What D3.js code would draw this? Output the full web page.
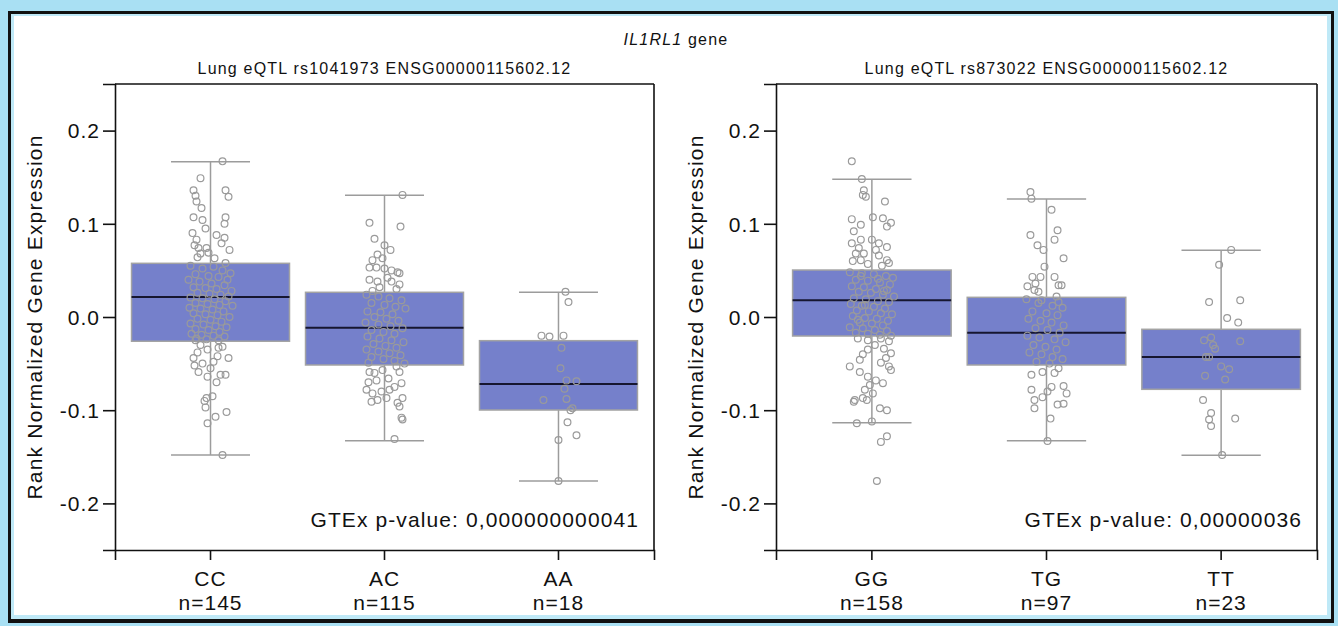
<!DOCTYPE html>
<html>
<head>
<meta charset="utf-8">
<script src="https://cdn.jsdelivr.net/npm/d3@7"></script>
<style>
body{margin:0;background:#fff}
svg{display:block}
text{font-family:Arial,"Liberation Sans",sans-serif;fill:#111}
</style>
</head>
<body>
<svg id="chart"></svg>
<script>
// ---- data ----
var geneName = "IL1RL1";
var panelTitles = ["Lung eQTL rs1041973 ENSG00000115602.12", "Lung eQTL rs873022 ENSG00000115602.12"];
var genotypesLeft = ["CC", "AC", "AA"];
var genotypesRight = ["GG", "TG", "TT"];
var countsLeft = [145, 115, 18];
var countsRight = [158, 97, 23];
var pvalues = ["0,000000000041", "0,00000036"];
var yTicks = [-0.2, -0.1, 0.0, 0.1, 0.2];

// [lower whisker, q1, median, q3, upper whisker]
var boxesLeft = [
  [-0.148, -0.026, 0.0215, 0.0576, 0.1666],
  [-0.1327, -0.0515, -0.0115, 0.0265, 0.1306],
  [-0.176, -0.0998, -0.0719, -0.0254, 0.0265]
];
var boxesRight = [
  [-0.1134, -0.0204, 0.0179, 0.0504, 0.1477],
  [-0.1327, -0.0515, -0.0168, 0.0211, 0.1266],
  [-0.1484, -0.0776, -0.0429, -0.0132, 0.0716]
];

// points: [jitter, value]
var pointsCC = [[12,0.167],[-10,0.149],[-17,0.136],[-15,0.130],[-14,0.124],[15,0.136],[18,0.129],[-9,0.117],[-17,0.107],[-8,0.104],[15,0.107],[14,0.100],[-5,0.095],[-14,0.083],[-16,0.077],[-12,0.074],[6,0.088],[14,0.085],[11,0.079],[19,0.072],[-4,0.074],[-13,0.064],[4,0.063],[15,0.058],[-2,0.069],[-18,0.090],[-10,0.068],
  [-20,0.055],[-8,0.052],[3,0.054],[12,0.050],[20,0.047],[-15,0.046],[-2,0.044],[8,0.043],[17,0.040],[-22,0.040],[-11,0.038],[1,0.036],[14,0.034],[-17,0.032],[-5,0.031],[6,0.030],[21,0.028],[-13,0.026],[-1,0.025],[10,0.024],[18,0.022],[-20,0.021],[-8,0.020],[4,0.019],[15,0.017],[-15,0.015],[-3,0.014],[9,0.013],[22,0.012],[-21,0.010],[-10,0.009],[2,0.008],[13,0.006],[-17,0.004],[-5,0.003],[7,0.002],[19,0.000],[-13,-0.002],[0,-0.003],[11,-0.005],[-20,-0.007],[-7,-0.008],[5,-0.010],[16,-0.011],[-15,-0.013],[-2,-0.014],[9,-0.016],[-19,-0.018],[-9,-0.019],[3,-0.020],[14,-0.021],[-14,-0.023],[-4,-0.024],[8,-0.025],
  [-15,-0.025],[-10,-0.030],[-13,-0.038],[-17,-0.044],[-3,-0.035],[8,-0.033],[12,-0.032],[7,-0.042],[18,-0.044],[3,-0.048],[-12,-0.059],[-3,-0.064],[0,-0.055],[10,-0.062],[15,-0.062],[-4,-0.087],[2,-0.085],[-5,-0.097],[5,-0.107],[-3,-0.114],[16,-0.102],[12,-0.148],[-8,-0.050],[-16,-0.052],[6,-0.070],[-6,-0.090]];
var pointsAC = [[18,0.131],[-15,0.101],[16,0.097],[-10,0.084],[0,0.077],[6,0.072],[-7,0.067],[-2,0.063],[-12,0.061],[-15,0.053],[-8,0.053],[0,0.052],[13,0.048],[7,0.050],[15,0.047],[-15,0.040],[-7,0.038],[7,0.038],[15,0.035],[3,0.042],[12,0.030],[-5,0.032],[-12,0.028],
  [-18,0.024],[-6,0.022],[5,0.020],[17,0.018],[-13,0.015],[0,0.013],[11,0.011],[21,0.009],[-17,0.006],[-4,0.005],[8,0.003],[-10,0.000],[2,-0.002],[14,-0.004],[-19,-0.006],[-6,-0.008],[6,-0.010],[18,-0.012],[-13,-0.014],[-1,-0.016],[10,-0.018],[-17,-0.021],[-5,-0.023],[7,-0.025],[19,-0.027],[-11,-0.029],[1,-0.031],[12,-0.033],[-18,-0.035],[-6,-0.037],[5,-0.039],[16,-0.041],[-13,-0.043],[-1,-0.045],[10,-0.047],[-16,-0.049],[20,-0.050],
  [-15,-0.059],[-10,-0.060],[-2,-0.057],[15,-0.059],[12,-0.053],[-18,-0.078],[-12,-0.082],[-3,-0.080],[5,-0.078],[18,-0.087],[10,-0.075],[17,-0.071],[-13,-0.091],[-7,-0.089],[2,-0.087],[13,-0.092],[15,-0.096],[17,-0.108],[18,-0.110],[10,-0.131],[-8,-0.068],[4,-0.066],[-16,-0.070]];
var pointsAA = [[7,0.027],[10,0.016],[-17,-0.020],[-9,-0.021],[5,-0.020],[3,-0.033],[2,-0.055],[8,-0.068],[18,-0.069],[6,-0.077],[-15,-0.089],[8,-0.088],[14,-0.098],[12,-0.100],[9,-0.113],[18,-0.127],[0,-0.132],[0,-0.176]];
var pointsGG = [[-20,0.167],[-10,0.148],[-8,0.136],[-6,0.129],[-9,0.131],[13,0.124],[-20,0.105],[1,0.107],[11,0.106],[19,0.101],[15,0.097],[-11,0.099],[-18,0.092],[-11,0.083],[0,0.083],[7,0.079],[15,0.075],[-20,0.079],[-13,0.074],[-16,0.068],[-8,0.068],[7,0.066],[15,0.061],[-19,0.060],[-11,0.061],[10,0.055],[17,0.058],[-4,0.057],[4,0.072],
  [-22,0.048],[-10,0.047],[2,0.046],[14,0.044],[21,0.042],[-16,0.040],[-4,0.039],[8,0.037],[18,0.035],[-20,0.033],[-8,0.032],[4,0.030],[15,0.029],[-13,0.027],[-1,0.026],[11,0.024],[22,0.022],[-18,0.020],[-6,0.019],[6,0.017],[17,0.016],[-21,0.014],[-10,0.012],[2,0.011],[13,0.009],[-15,0.007],[-3,0.006],[9,0.004],[20,0.003],[-19,0.001],[-7,-0.001],[5,-0.002],[16,-0.004],[-12,-0.006],[0,-0.007],[11,-0.009],[-22,-0.011],[-9,-0.012],[3,-0.014],[15,-0.015],[-16,-0.017],[-4,-0.018],[8,-0.019],[19,-0.020],[-11,0.044],[6,0.041],[-14,-0.003],[12,0.028],[-7,0.013],
  [-14,-0.023],[-4,-0.025],[9,-0.023],[17,-0.026],[12,-0.034],[-4,-0.035],[19,-0.039],[14,-0.044],[9,-0.049],[17,-0.053],[19,-0.057],[-12,-0.046],[-22,-0.053],[-12,-0.059],[-4,-0.064],[4,-0.068],[11,-0.071],[-2,-0.073],[-7,-0.078],[1,-0.082],[-9,-0.087],[-18,-0.091],[-5,-0.089],[8,-0.098],[15,-0.100],[-15,-0.114],[0,-0.112],[15,-0.128],[9,-0.134],[5,-0.176],[-17,-0.089],[3,-0.030],[-9,-0.040]];
var pointsTG = [[-16,0.134],[-15,0.127],[5,0.115],[11,0.093],[8,0.083],[-16,0.088],[-9,0.077],[-3,0.072],[17,0.063],[-2,0.054],[-14,0.043],[-6,0.043],[-11,0.036],[-19,0.033],[8,0.043],[12,0.034],[15,0.034],[-8,0.027],[-12,0.029],[10,0.022],[12,0.016],[-8,0.015],
  [-20,0.019],[-5,0.018],[6,0.012],[16,0.010],[-14,0.006],[0,0.004],[11,0.002],[-18,-0.002],[-6,-0.004],[5,-0.006],[17,-0.009],[-11,-0.012],[1,-0.014],[13,-0.017],[-19,-0.020],[-7,-0.022],[8,-0.024],[19,-0.027],[-13,-0.030],[-1,-0.032],[10,-0.035],[-17,-0.038],[-5,-0.040],[6,-0.043],[16,-0.045],[-10,-0.048],[3,-0.050],
  [-15,-0.062],[-4,-0.059],[8,-0.060],[12,-0.055],[-15,-0.078],[5,-0.075],[17,-0.074],[20,-0.082],[1,-0.080],[-4,-0.086],[-12,-0.089],[-12,-0.098],[11,-0.094],[17,-0.093],[4,-0.109],[1,-0.133]];
var pointsTT = [[10,0.072],[-2,0.056],[-12,0.016],[19,0.018],[6,-0.001],[17,-0.006],[-17,-0.025],[-10,-0.022],[19,-0.026],[-6,-0.034],[-12,-0.043],[-15,-0.043],[0,-0.053],[8,-0.056],[-16,-0.063],[4,-0.067],[-18,-0.089],[-10,-0.103],[-12,-0.110],[-10,-0.117],[14,-0.109],[1,-0.148],[-8,-0.030]];

var width = 1338, height = 626;
var svg = d3.select("#chart").attr("width", width).attr("height", height);

// window frame
svg.append("rect").attr("width", width).attr("height", height).attr("fill", "#a9e0f3");
svg.append("rect").attr("x", 8).attr("y", 11).attr("width", 1326).attr("height", 612).attr("fill", "#111");
svg.append("rect").attr("x", 11).attr("y", 14).attr("width", 1320).attr("height", 605).attr("fill", "#bfe9f7");
svg.append("rect").attr("x", 14).attr("y", 16).attr("width", 1313).attr("height", 599).attr("fill", "#fff");

// main title
var title = svg.append("text").attr("x", 676).attr("y", 45).attr("text-anchor", "middle")
  .style("font-size", "16px").style("letter-spacing", "1.2px");
title.append("tspan").style("font-style", "italic").text(geneName);
title.append("tspan").text(" gene");

var y = d3.scaleLinear().domain([-0.25, 0.25]).range([550, 84]);
var jitter = d3.scaleLinear().domain([-24, 24]);

function drawPanel(x0, x1, cats, counts, boxes, points, ptitle, pval) {
  var g = svg.append("g");
  var x = d3.scaleBand().domain(cats).range([x0, x1]).paddingInner(0.092).paddingOuter(0.095);
  var bw = x.bandwidth();
  jitter.range([-bw * 0.152, bw * 0.152]);

  g.append("text").attr("x", (x0 + x1) / 2).attr("y", 74).attr("text-anchor", "middle")
    .style("font-size", "16px").style("letter-spacing", "1.2px").text(ptitle);

  cats.forEach(function (c, i) {
    var b = boxes[i], cx = x(c) + bw / 2;
    var wg = g.append("g").attr("stroke", "#9c9c9c").attr("stroke-width", 1.5);
    wg.append("line").attr("x1", cx).attr("x2", cx).attr("y1", y(b[4])).attr("y2", y(b[3]));
    wg.append("line").attr("x1", cx).attr("x2", cx).attr("y1", y(b[1])).attr("y2", y(b[0]));
    wg.append("line").attr("x1", cx - bw / 4).attr("x2", cx + bw / 4).attr("y1", y(b[4])).attr("y2", y(b[4]));
    wg.append("line").attr("x1", cx - bw / 4).attr("x2", cx + bw / 4).attr("y1", y(b[0])).attr("y2", y(b[0]));
    g.append("rect").attr("x", x(c)).attr("width", bw).attr("y", y(b[3])).attr("height", y(b[1]) - y(b[3]))
      .attr("fill", "#7580cb").attr("stroke", "#a3a3a3").attr("stroke-width", 1.5);
    g.append("line").attr("x1", x(c)).attr("x2", x(c) + bw).attr("y1", y(b[2])).attr("y2", y(b[2]))
      .attr("stroke", "#161630").attr("stroke-width", 2);
    g.append("g").selectAll("circle").data(points[i]).join("circle")
      .attr("cx", function (d) { return cx + jitter(d[0]); })
      .attr("cy", function (d) { return y(d[1]); })
      .attr("r", 3.4).attr("fill", "none").attr("stroke", "#9a9a9a").attr("stroke-width", 1.2);
  });

  // frame + axes
  g.append("line").attr("x1", x0).attr("x2", x1).attr("y1", y(0.25)).attr("y2", y(0.25)).attr("stroke", "#111").attr("stroke-width", 1.6);
  g.append("line").attr("x1", x1).attr("x2", x1).attr("y1", y(0.25)).attr("y2", y(-0.25)).attr("stroke", "#111").attr("stroke-width", 1.6);

  var ya = g.append("g").attr("transform", "translate(" + x0 + ",0)")
    .call(d3.axisLeft(y).tickValues(yTicks).tickSize(12).tickPadding(3)
      .tickFormat(function (d) { return d.toFixed(1); }));
  ya.selectAll("text").style("font-size", "21px").style("letter-spacing", "1px").attr("fill", "#111").attr("dy", "0.35em");

  var xa = g.append("g").attr("transform", "translate(0," + y(-0.25) + ")")
    .call(d3.axisBottom(x).tickSize(10).tickFormat(""));
  g.selectAll(".domain, .tick line").attr("stroke", "#111").attr("stroke-width", 1.6);

  cats.forEach(function (c, i) {
    var cx = x(c) + bw / 2;
    g.append("text").attr("x", cx).attr("y", 586).attr("text-anchor", "middle")
      .style("font-size", "21px").style("letter-spacing", "1px").text(c);
    g.append("text").attr("x", cx).attr("y", 610).attr("text-anchor", "middle")
      .style("font-size", "21px").style("letter-spacing", "1px").text("n=" + counts[i]);
  });

  g.append("text").attr("transform", "translate(" + (x0 - 73) + "," + y(0) + ") rotate(-90)")
    .attr("text-anchor", "middle").style("font-size", "21px").style("letter-spacing", "1.2px")
    .text("Rank Normalized Gene Expression");

  g.append("text").attr("x", x1 - 15).attr("y", 527).attr("text-anchor", "end")
    .style("font-size", "21px").style("letter-spacing", "1.1px").text("GTEx p-value: " + pval);
}

drawPanel(115, 654, genotypesLeft, countsLeft, boxesLeft, [pointsCC, pointsAC, pointsAA], panelTitles[0], pvalues[0]);
drawPanel(776, 1317, genotypesRight, countsRight, boxesRight, [pointsGG, pointsTG, pointsTT], panelTitles[1], pvalues[1]);
</script>
</body>
</html>
